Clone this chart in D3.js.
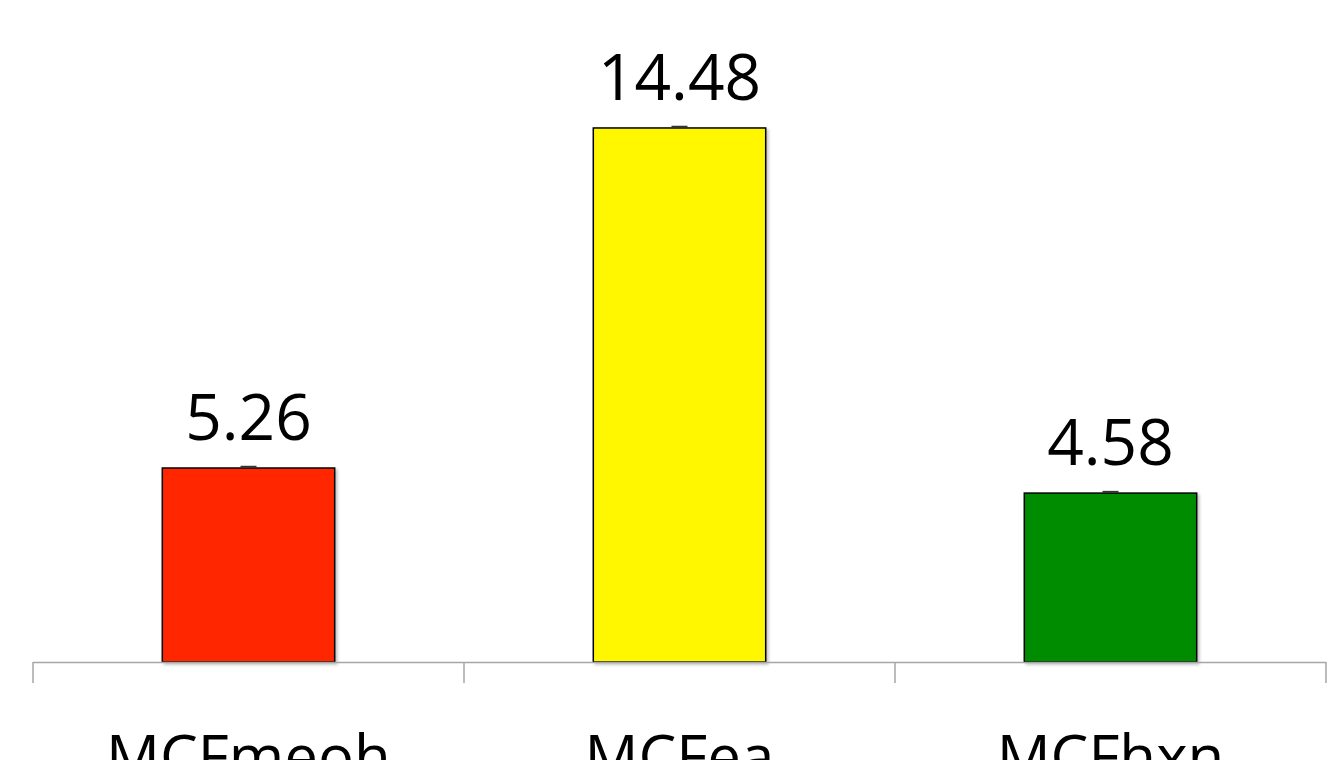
<!DOCTYPE html>
<html>
<head>
<meta charset="utf-8">
<script src="https://cdn.jsdelivr.net/npm/d3@7"></script>
<style>
  body { margin: 0; background: #fff; }
  svg { display: block; }
  text { font-family: "Open Sans", "Noto Sans", sans-serif; fill: #000; }
</style>
</head>
<body>
<div id="chart"></div>
<script>
var categories = ["MCFmeoh", "MCFea", "MCFhxn"];
var values = [5.26, 14.48, 4.58];
var errors = [0.02, 0.02, 0.02];
var colors = ["#ff2600", "#fff700", "#008c00"];

var width = 1336,
  height = 760,
  margin = {left: 33, right: 10, baseline: 662};

var svg = d3.select("#chart").append("svg")
  .attr("width", width)
  .attr("height", height);

var defs = svg.append("defs");
var shadow = defs.append("filter").attr("id", "shadow")
  .attr("x", "-5%").attr("y", "-5%").attr("width", "115%").attr("height", "115%");
shadow.append("feDropShadow")
  .attr("dx", 2).attr("dy", 2).attr("stdDeviation", 1.5)
  .attr("flood-color", "#000").attr("flood-opacity", 0.25);

var xScale = d3.scaleBand()
  .domain(categories)
  .range([margin.left, width - margin.right])
  .padding(0);

var yScale = d3.scaleLinear()
  .domain([0, 16])
  .range([margin.baseline, margin.baseline - 16 * 36.88]);

var barW = xScale.bandwidth() * 0.4;

var data = categories.map(function(c, i) {
  return {cat: c, value: values[i], err: errors[i], color: colors[i]};
});

// bars
svg.selectAll(".bar")
  .data(data)
  .enter().append("rect")
    .attr("class", "bar")
    .attr("x", function(d) { return xScale(d.cat) + (xScale.bandwidth() - barW) / 2; })
    .attr("y", function(d) { return yScale(d.value); })
    .attr("width", barW)
    .attr("height", function(d) { return yScale(0) - yScale(d.value); })
    .attr("fill", function(d) { return d.color; })
    .attr("stroke", "#000")
    .attr("stroke-width", 1.5)
    .attr("filter", "url(#shadow)");

// tiny error bars
svg.selectAll(".err")
  .data(data)
  .enter().append("line")
    .attr("class", "err")
    .attr("x1", function(d) { return xScale(d.cat) + xScale.bandwidth() / 2 - 8; })
    .attr("x2", function(d) { return xScale(d.cat) + xScale.bandwidth() / 2 + 8; })
    .attr("y1", function(d) { return yScale(d.value + d.err) - 0.5; })
    .attr("y2", function(d) { return yScale(d.value + d.err) - 0.5; })
    .attr("stroke", "#333")
    .attr("stroke-width", 2);

// value labels
svg.selectAll(".val")
  .data(data)
  .enter().append("text")
    .attr("class", "val")
    .attr("x", function(d) { return xScale(d.cat) + xScale.bandwidth() / 2; })
    .attr("y", function(d) { return yScale(d.value) - 28; })
    .attr("text-anchor", "middle")
    .style("font-size", "64px")
    .text(function(d) { return d.value.toFixed(2); });

// x axis
var axis = svg.append("g")
  .attr("transform", "translate(0," + margin.baseline + ")");
var tickPos = categories.map(function(c) { return xScale(c); })
  .concat([xScale(categories[categories.length - 1]) + xScale.bandwidth()]);

axis.append("line")
  .attr("x1", xScale.range()[0]).attr("x2", xScale.range()[1])
  .attr("y1", 0.5).attr("y2", 0.5)
  .attr("stroke", "#a6a6a6").attr("stroke-width", 1.5);
axis.selectAll(".tick")
  .data(tickPos)
  .enter().append("line")
    .attr("class", "tick")
    .attr("x1", function(d) { return d; }).attr("x2", function(d) { return d; })
    .attr("y1", 0).attr("y2", 21)
    .attr("stroke", "#a6a6a6").attr("stroke-width", 1.5);
// category labels run off the bottom edge, as in the source image
axis.selectAll(".cat")
  .data(categories)
  .enter().append("text")
    .attr("class", "cat")
    .attr("x", function(d) { return xScale(d) + xScale.bandwidth() / 2; })
    .attr("y", 116)
    .attr("text-anchor", "middle")
    .style("font-size", "60px")
    .text(function(d) { return d; });
</script>
</body>
</html>
